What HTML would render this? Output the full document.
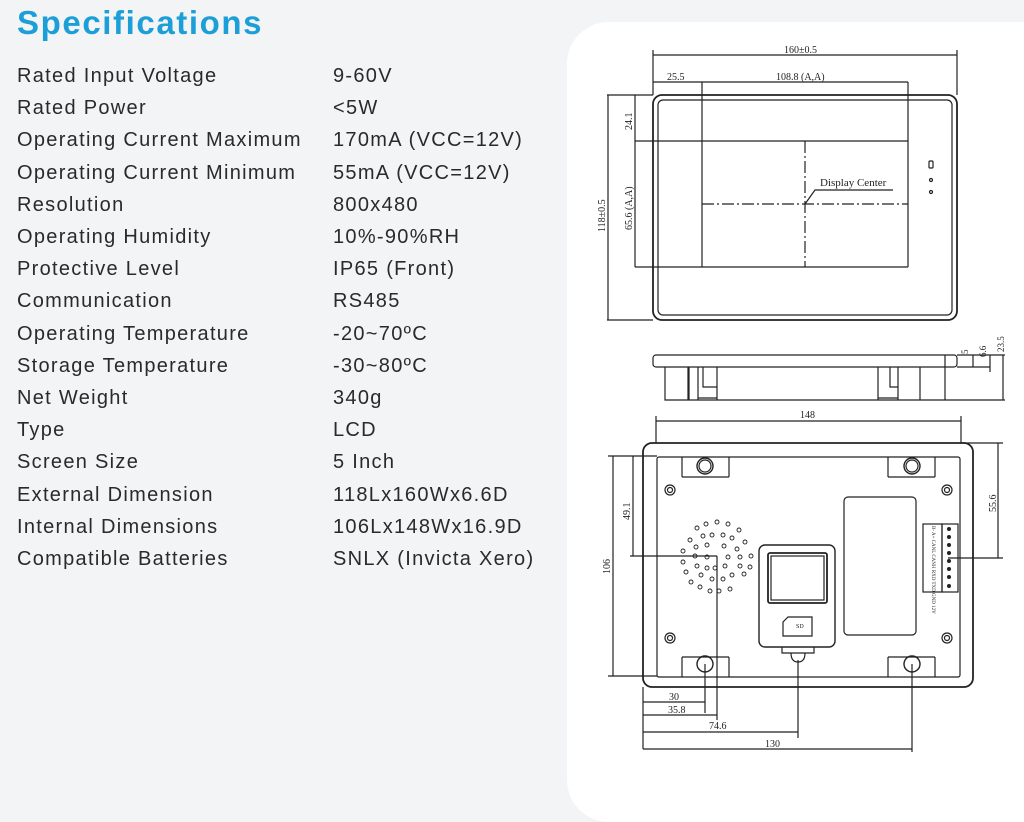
<!DOCTYPE html>
<html><head><meta charset="utf-8"><style>
body{margin:0;width:1024px;height:764px;overflow:hidden;background:#f3f4f5;font-family:"Liberation Sans",sans-serif;position:relative}
h1{position:absolute;left:17px;top:0;margin:0;font-size:33px;font-weight:bold;color:#1c9fd8;letter-spacing:1.6px;line-height:46px}
.r{position:absolute;font-size:20px;color:#2a2a2a;white-space:nowrap;line-height:22px;letter-spacing:1.3px}
.panel{position:absolute;left:567px;top:22px;width:520px;height:800px;background:#fff;border-radius:42px}
svg{position:absolute;left:0;top:0}
</style></head><body>
<h1>Specifications</h1>
<div class="panel"></div>
<div class="r" style="left:17px;top:65px">Rated Input Voltage</div><div class="r" style="left:333px;top:65px">9-60V</div>
<div class="r" style="left:17px;top:97px">Rated Power</div><div class="r" style="left:333px;top:97px">&lt;5W</div>
<div class="r" style="left:17px;top:129px">Operating Current Maximum</div><div class="r" style="left:333px;top:129px">170mA (VCC=12V)</div>
<div class="r" style="left:17px;top:162px">Operating Current Minimum</div><div class="r" style="left:333px;top:162px">55mA (VCC=12V)</div>
<div class="r" style="left:17px;top:194px">Resolution</div><div class="r" style="left:333px;top:194px">800x480</div>
<div class="r" style="left:17px;top:226px">Operating Humidity</div><div class="r" style="left:333px;top:226px">10%-90%RH</div>
<div class="r" style="left:17px;top:258px">Protective Level</div><div class="r" style="left:333px;top:258px">IP65 (Front)</div>
<div class="r" style="left:17px;top:290px">Communication</div><div class="r" style="left:333px;top:290px">RS485</div>
<div class="r" style="left:17px;top:323px">Operating Temperature</div><div class="r" style="left:333px;top:323px">-20~70ºC</div>
<div class="r" style="left:17px;top:355px">Storage Temperature</div><div class="r" style="left:333px;top:355px">-30~80ºC</div>
<div class="r" style="left:17px;top:387px">Net Weight</div><div class="r" style="left:333px;top:387px">340g</div>
<div class="r" style="left:17px;top:419px">Type</div><div class="r" style="left:333px;top:419px">LCD</div>
<div class="r" style="left:17px;top:451px">Screen Size</div><div class="r" style="left:333px;top:451px">5 Inch</div>
<div class="r" style="left:17px;top:484px">External Dimension</div><div class="r" style="left:333px;top:484px">118Lx160Wx6.6D</div>
<div class="r" style="left:17px;top:516px">Internal Dimensions</div><div class="r" style="left:333px;top:516px">106Lx148Wx16.9D</div>
<div class="r" style="left:17px;top:548px">Compatible Batteries</div><div class="r" style="left:333px;top:548px">SNLX (Invicta Xero)</div>

<svg width="1024" height="764" viewBox="0 0 1024 764" fill="none" stroke="#222" stroke-width="1.2" font-family="Liberation Serif, serif" font-size="10">
<!-- front view -->
<rect x="653" y="95" width="304" height="225" rx="9" stroke-width="1.8"/>
<rect x="658" y="100" width="294" height="215" rx="5"/>
<path d="M653 55H957M653 50V95M957 50V95M653 82H908M702 82V267M908 82V267M635 141H908M635 267H908M607 95H653M607 320H653M608 95V320M635 95V267"/>
<path d="M805 141V267M702 204H908" stroke-dasharray="12,3,2,3"/>
<path d="M805 204L815 190H893"/>
<g fill="#222" stroke="none">
<text x="784" y="53">160±0.5</text><text x="667" y="80">25.5</text><text x="776" y="80">108.8 (A,A)</text>
<text x="820" y="186" font-size="11">Display Center</text>
<text transform="translate(632,130) rotate(-90)">24.1</text>
<text transform="translate(632,230) rotate(-90)">65.6 (A,A)</text>
<text transform="translate(605,232) rotate(-90)">118±0.5</text>
</g>
<rect x="929" y="161" width="4" height="7" rx="1"/><circle cx="931" cy="180" r="1.5"/><circle cx="931" cy="192" r="1.5"/>
<!-- side view -->
<rect x="653" y="355" width="304" height="12" rx="3"/>
<path d="M665 367V400H945V367M688 367V400M689 367V400M920 367V400M698 367V400M717 367V400M878 367V400M898 367V400M703 367V387H717M890 367V387H898M698 398H717M878 398H898M945 355V367M957 367H990M957 355H1005M945 400H1005M973 355V367M990 355V372M1003 355V400"/>
<g fill="#222" stroke="none" font-size="9">
<text transform="translate(968,354) rotate(-90)">5</text><text transform="translate(986,357) rotate(-90)">6.6</text><text transform="translate(1004,352) rotate(-90)">23.5</text>
</g>
<!-- back view -->
<rect x="643" y="443" width="330" height="244" rx="9" stroke-width="1.8"/>
<rect x="657" y="457" width="303" height="220" rx="2"/>
<path d="M656 421H961M656 416V443M961 416V443M613 456V676M608 456H657M608 676H657M633 456V556M630 556H717M998 443V558M960 443H1003M948 558H1003"/>
<path d="M643 687V749M705 664V713M717 556V720M798 660V738M912 664V752M643 702H705M643 715H717M643 732H798M643 749H912"/>
<g fill="#222" stroke="none">
<text x="800" y="418">148</text><text transform="translate(610,574) rotate(-90)">106</text><text transform="translate(630,520) rotate(-90)">49.1</text><text transform="translate(996,512) rotate(-90)">55.6</text>
<text x="669" y="700">30</text><text x="668" y="713">35.8</text><text x="709" y="729">74.6</text><text x="765" y="747">130</text>
</g>
<path d="M682 477V457M729 477V457M682 477H729M888 477V457M935 477V457M888 477H935M682 657V677M729 657V677M682 657H729M888 657V677M935 657V677M888 657H935"/>
<g stroke-width="1.4"><circle cx="705" cy="466" r="8"/><circle cx="912" cy="466" r="8"/><circle cx="705" cy="664" r="8"/><circle cx="912" cy="664" r="8"/></g>
<circle cx="705" cy="466" r="6"/><circle cx="912" cy="466" r="6"/>
<circle cx="670" cy="490" r="5"/><circle cx="670" cy="490" r="2.5"/><circle cx="947" cy="490" r="5"/><circle cx="947" cy="490" r="2.5"/>
<circle cx="670" cy="638" r="5"/><circle cx="670" cy="638" r="2.5"/><circle cx="947" cy="638" r="5"/><circle cx="947" cy="638" r="2.5"/>
<g stroke-width="0.9">
<circle cx="717" cy="522" r="2"/><circle cx="706" cy="524" r="2"/><circle cx="728" cy="524" r="2"/><circle cx="697" cy="528" r="2"/><circle cx="739" cy="530" r="2"/>
<circle cx="690" cy="540" r="2"/><circle cx="703" cy="536" r="2"/><circle cx="712" cy="535" r="2"/><circle cx="723" cy="535" r="2"/><circle cx="732" cy="538" r="2"/><circle cx="745" cy="542" r="2"/>
<circle cx="683" cy="551" r="2"/><circle cx="696" cy="547" r="2"/><circle cx="707" cy="545" r="2"/><circle cx="724" cy="546" r="2"/><circle cx="737" cy="549" r="2"/>
<circle cx="695" cy="556" r="2"/><circle cx="707" cy="557" r="2"/><circle cx="728" cy="557" r="2"/><circle cx="740" cy="557" r="2"/><circle cx="751" cy="556" r="2"/>
<circle cx="683" cy="562" r="2"/><circle cx="697" cy="566" r="2"/><circle cx="707" cy="568" r="2"/><circle cx="715" cy="568" r="2"/><circle cx="725" cy="566" r="2"/><circle cx="740" cy="566" r="2"/><circle cx="750" cy="567" r="2"/>
<circle cx="686" cy="572" r="2"/><circle cx="701" cy="575" r="2"/><circle cx="712" cy="579" r="2"/><circle cx="723" cy="579" r="2"/><circle cx="732" cy="575" r="2"/><circle cx="744" cy="574" r="2"/>
<circle cx="691" cy="582" r="2"/><circle cx="700" cy="587" r="2"/><circle cx="710" cy="591" r="2"/><circle cx="719" cy="591" r="2"/><circle cx="730" cy="589" r="2"/>
</g>
<rect x="759" y="545" width="76" height="102" rx="6" stroke-width="1.4"/>
<rect x="768" y="553" width="59" height="50" rx="2" stroke-width="1.8"/><rect x="771" y="556" width="53" height="44"/>
<path d="M783 636V622L788 617H812V636Z"/><text x="796" y="628" font-size="6" fill="#222" stroke="none">SD</text>
<path d="M782 647V653H814V647M791 653Q791 662 798 662Q805 662 805 653"/>
<rect x="844" y="497" width="72" height="138" rx="4"/>
<rect x="923" y="524" width="19" height="68"/><rect x="942" y="524" width="16" height="68"/>
<g fill="#222" stroke="none"><circle cx="949" cy="529" r="2"/><circle cx="949" cy="537" r="2"/><circle cx="949" cy="545" r="2"/><circle cx="949" cy="553" r="2"/><circle cx="949" cy="561" r="2"/><circle cx="949" cy="569" r="2"/><circle cx="949" cy="577" r="2"/><circle cx="949" cy="586" r="2"/>
<text transform="translate(932,526) rotate(90)" font-size="5">B- A+ CANL CANH RXD TXD GND 12V</text></g>
</svg>
</body></html>
